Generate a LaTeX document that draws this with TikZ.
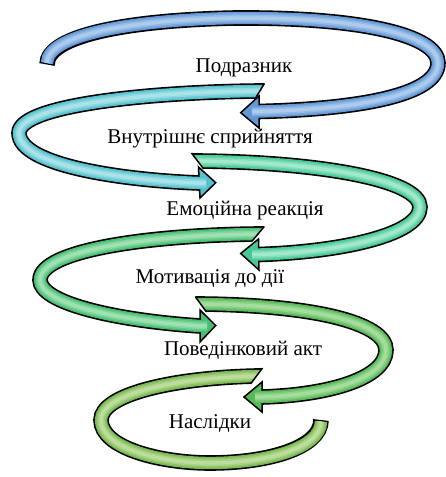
\documentclass[tikz,border=0pt]{standalone}
\usepackage{fontspec}
\setmainfont{Liberation Serif}
\definecolor{cA}{RGB}{98,152,214}\definecolor{lA}{RGB}{182,210,240}
\definecolor{cB}{RGB}{84,193,205}\definecolor{lB}{RGB}{180,232,236}
\definecolor{cC}{RGB}{72,200,150}\definecolor{lC}{RGB}{174,236,210}
\definecolor{cD}{RGB}{72,190,115}\definecolor{lD}{RGB}{170,230,188}
\definecolor{cE}{RGB}{88,185,88}\definecolor{lE}{RGB}{176,226,168}
\definecolor{cF}{RGB}{122,185,80}\definecolor{lF}{RGB}{198,226,168}
\tikzset{
  outl/.style={line width=15.6pt,black},
  headbox/.style={draw=black,line width=1.5pt,line join=miter},
  cutedge/.style={draw=black,line width=1.5pt},
  lbl/.style={font=\fontsize{21}{25}\selectfont,anchor=base,inner sep=0pt}
}
% #1 path, #2 head, #3 colour, #4 light colour, #5 shortening options, #6 tail cut
\newcommand\spiralband[6]{%
  \draw[outl] #1;
  #2
  \draw[line width=12.4pt,#3,#5] #1;
  \draw[line width=9.6pt,#3!72!#4,#5] #1;
  \draw[line width=6.6pt,#3!40!#4,#5] #1;
  \draw[line width=3.4pt,#3!12!#4,#5] #1;
  #6
}
\begin{document}
\begin{tikzpicture}[x=1pt,y=-1pt]
\useasboundingbox (0,0) rectangle (445,477);
% arrow 6
\spiralband{(265,376) -- (256,376) .. controls (170,378) and (101,395) .. (101,420) .. controls (101,448) and (160,463) .. (210,463) .. controls (270,463) and (321,447) .. (321,420)}
 {}
 {cF}{lF}{shorten >=1.5pt}
 {\fill[white] (263.25,367) -- (249.75,385) -- (272,385) -- (272,367) -- cycle;
  \draw[cutedge] (262.5,368) -- (250.5,384);}
% arrow 5
\spiralband{(192,304) -- (201,304) .. controls (310,305) and (386,322) .. (386,350) .. controls (386,378) and (330,395) .. (262,397) -- (255,397)}
 {\filldraw[headbox,fill=cE] (262,382) -- (244,397) -- (262,412) -- cycle;}
 {cE}{lE}{}
 {\fill[white] (194.8,296) -- (207.2,313) -- (186,313) -- (186,296) -- cycle;
  \draw[cutedge] (195.5,297) -- (206.5,312);}
% arrow 4
\spiralband{(267,234) -- (258,234) .. controls (150,235) and (40,250) .. (40,280) .. controls (40,302) and (110,320) .. (200,326) -- (207,326)}
 {\filldraw[headbox,fill=cD] (200,310) -- (215.7,325.5) -- (200,342) -- cycle;}
 {cD}{lD}{}
 {\fill[white] (265.5,225) -- (250.5,243) -- (274,243) -- (274,225) -- cycle;
  \draw[cutedge] (264.3,226.5) -- (251.7,241.5);}
% arrow 3
\spiralband{(189,161) -- (198,161) .. controls (320,162) and (420,180) .. (420,207) .. controls (420,235) and (340,252) .. (259,254.5) -- (252,254.5)}
 {\filldraw[headbox,fill=cC] (258.5,239) -- (240.7,253.5) -- (259,270) -- cycle;}
 {cC}{lC}{}
 {\fill[white] (190.7,152) -- (204.5,170) -- (183,170) -- (183,152) -- cycle;
  \draw[cutedge] (191.5,153) -- (203.7,169);}
% arrow 2
\spiralband{(268,91) -- (259,91) .. controls (150,92) and (19,105) .. (19,133) .. controls (19,165) and (120,180) .. (199,183) -- (206,183)}
 {\filldraw[headbox,fill=cB] (198.5,167) -- (215.7,182.7) -- (200,198) -- cycle;}
 {cB}{lB}{}
 {\fill[white] (265.3,82) -- (254.7,99.5) -- (275,99.5) -- (275,82) -- cycle;
  \draw[cutedge] (264.4,83.5) -- (255.3,98.5);}
% arrow 1
\spiralband{(47,64.5) .. controls (47,35) and (130,20) .. (235,18) .. controls (360,17) and (438,35) .. (438,63) .. controls (438,95) and (360,109) .. (259,111.5) -- (252,111.8)}
 {\filldraw[headbox,fill=cA] (259,96) -- (240.7,112.7) -- (259,128) -- cycle;}
 {cA}{lA}{shorten <=1.5pt}
 {}
% labels
\node[lbl] (t1) at (244,72) {Подразник};
\node[lbl] (t2) at (210,143) {Внутрішнє сприйняття};
\node[lbl] (t3) at (245,215) {Емоційна реакція};
\node[lbl] (t4) at (210,283) {Мотивація до дії};
\node[lbl] (t5) at (243,355) {Поведінковий акт};
\node[lbl] (t6) at (210,428) {Наслідки};
\end{tikzpicture}
\end{document}
